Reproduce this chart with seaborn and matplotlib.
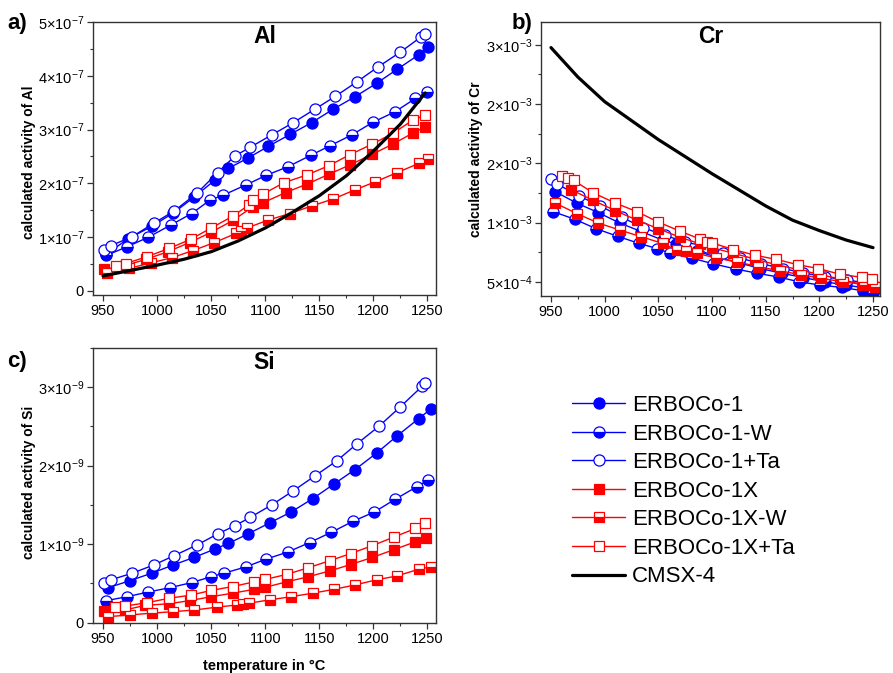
import numpy as np
import pandas as pd
import matplotlib
matplotlib.use("Agg")
import matplotlib.pyplot as plt
import seaborn as sns
from matplotlib.ticker import FixedLocator, MultipleLocator, FixedFormatter

# ---------------- data ----------------
series_names = ["ERBOCo-1", "ERBOCo-1-W", "ERBOCo-1+Ta",
                "ERBOCo-1X", "ERBOCo-1X-W", "ERBOCo-1X+Ta", "CMSX-4"]

# Al activity (x 1e-7)
al_T_e1 = [953, 973, 995, 1015, 1034, 1054, 1066, 1084, 1103, 1123, 1143, 1163, 1183, 1203, 1222, 1242, 1251]
al_v_e1 = [0.68, 0.97, 1.20, 1.45, 1.74, 2.07, 2.28, 2.47, 2.69, 2.91, 3.13, 3.38, 3.61, 3.86, 4.12, 4.39, 4.53]
al_T_e1w = [953, 972, 992, 1013, 1032, 1049, 1061, 1082, 1101, 1121, 1142, 1160, 1180, 1200, 1220, 1239, 1250]
al_v_e1w = [0.66, 0.82, 1.00, 1.23, 1.44, 1.69, 1.78, 1.97, 2.15, 2.31, 2.52, 2.70, 2.90, 3.14, 3.33, 3.58, 3.70]
al_T_e1ta = [951, 957, 977, 997, 1016, 1037, 1056, 1072, 1086, 1106, 1126, 1146, 1165, 1185, 1204, 1225, 1244, 1248]
al_v_e1ta = [0.76, 0.84, 1.01, 1.26, 1.49, 1.82, 2.20, 2.51, 2.67, 2.90, 3.13, 3.38, 3.62, 3.89, 4.16, 4.44, 4.72, 4.77]
al_T_x = [951, 970, 990, 1010, 1030, 1050, 1070, 1089, 1098, 1119, 1139, 1159, 1178, 1199, 1218, 1237, 1248]
al_v_x = [0.40, 0.47, 0.59, 0.73, 0.90, 1.09, 1.31, 1.57, 1.64, 1.83, 1.99, 2.17, 2.34, 2.54, 2.73, 2.94, 3.05]
al_T_xw = [954, 974, 994, 1014, 1033, 1053, 1073, 1078, 1083, 1103, 1123, 1143, 1163, 1183, 1202, 1222, 1242, 1251]
al_v_xw = [0.34, 0.42, 0.52, 0.62, 0.75, 0.90, 1.07, 1.12, 1.17, 1.32, 1.44, 1.58, 1.71, 1.88, 2.03, 2.20, 2.37, 2.45]
al_T_xta = [962, 971, 991, 1011, 1031, 1050, 1070, 1085, 1089, 1098, 1117, 1139, 1159, 1178, 1199, 1218, 1237, 1248]
al_v_xta = [0.47, 0.51, 0.64, 0.79, 0.96, 1.17, 1.39, 1.60, 1.69, 1.80, 2.01, 2.16, 2.33, 2.53, 2.73, 2.93, 3.18, 3.27]
al_T_cmsx = [950, 975, 1000, 1025, 1050, 1075, 1100, 1125, 1150, 1175, 1200, 1225, 1248]
al_v_cmsx = [0.28, 0.38, 0.48, 0.59, 0.73, 0.93, 1.17, 1.46, 1.77, 2.14, 2.60, 3.10, 3.68]

# Cr activity (x 1e-3)
cr_T_e1 = [954, 974, 994, 1014, 1034, 1054, 1066, 1086, 1105, 1125, 1145, 1165, 1185, 1205, 1225, 1245, 1252]
cr_v_e1 = [1.45, 1.33, 1.23, 1.12, 1.03, 0.94, 0.90, 0.82, 0.76, 0.70, 0.64, 0.59, 0.545, 0.50, 0.465, 0.43, 0.42]
cr_T_e1w = [952, 972, 992, 1012, 1032, 1049, 1061, 1081, 1101, 1122, 1142, 1162, 1181, 1201, 1221, 1241, 1250]
cr_v_e1w = [1.24, 1.16, 1.06, 0.98, 0.905, 0.85, 0.80, 0.75, 0.69, 0.635, 0.59, 0.55, 0.50, 0.465, 0.44, 0.405, 0.385]
cr_T_e1ta = [950, 956, 976, 996, 1016, 1036, 1056, 1075, 1095, 1110, 1126, 1146, 1166, 1185, 1205, 1226, 1246, 1250]
cr_v_e1ta = [1.58, 1.53, 1.405, 1.30, 1.18, 1.07, 0.99, 0.92, 0.87, 0.80, 0.75, 0.69, 0.64, 0.595, 0.55, 0.52, 0.48, 0.47]
cr_T_x = [969, 989, 1010, 1030, 1050, 1070, 1089, 1100, 1120, 1140, 1160, 1180, 1199, 1219, 1240, 1252]
cr_v_x = [1.47, 1.36, 1.25, 1.15, 1.06, 0.97, 0.90, 0.86, 0.80, 0.74, 0.68, 0.63, 0.58, 0.53, 0.47, 0.44]
cr_T_xw = [954, 974, 994, 1014, 1034, 1054, 1067, 1076, 1086, 1104, 1123, 1143, 1163, 1183, 1202, 1222, 1242, 1252]
cr_v_xw = [1.33, 1.22, 1.12, 1.046, 0.975, 0.905, 0.835, 0.82, 0.80, 0.75, 0.71, 0.66, 0.615, 0.575, 0.535, 0.50, 0.47, 0.45]
cr_T_xta = [960, 966, 971, 989, 1010, 1030, 1050, 1070, 1089, 1095, 1100, 1120, 1140, 1160, 1180, 1199, 1219, 1240, 1249]
cr_v_xta = [1.62, 1.59, 1.57, 1.44, 1.33, 1.24, 1.13, 1.035, 0.95, 0.92, 0.91, 0.84, 0.78, 0.736, 0.68, 0.64, 0.58, 0.546, 0.525]
cr_T_cmsx = [950, 975, 1000, 1025, 1050, 1075, 1100, 1125, 1150, 1175, 1200, 1225, 1250]
cr_v_cmsx = [2.97, 2.66, 2.40, 2.20, 2.00, 1.82, 1.64, 1.47, 1.30, 1.15, 1.04, 0.94, 0.86]

# Si activity (x 1e-9)
si_T_e1 = [955, 975, 995, 1015, 1034, 1054, 1066, 1084, 1104, 1124, 1144, 1164, 1183, 1203, 1222, 1242, 1253]
si_v_e1 = [0.446, 0.535, 0.63, 0.735, 0.83, 0.94, 1.01, 1.13, 1.27, 1.41, 1.58, 1.77, 1.95, 2.16, 2.38, 2.60, 2.72]
si_T_e1w = [953, 972, 992, 1012, 1032, 1050, 1062, 1082, 1101, 1121, 1141, 1161, 1181, 1201, 1220, 1240, 1251]
si_v_e1w = [0.28, 0.33, 0.39, 0.446, 0.51, 0.585, 0.63, 0.71, 0.81, 0.90, 1.02, 1.15, 1.29, 1.41, 1.57, 1.73, 1.82]
si_T_e1ta = [951, 957, 977, 997, 1016, 1037, 1056, 1072, 1086, 1106, 1126, 1146, 1166, 1185, 1205, 1225, 1245, 1248]
si_v_e1ta = [0.51, 0.544, 0.63, 0.735, 0.855, 0.99, 1.13, 1.235, 1.34, 1.50, 1.68, 1.87, 2.06, 2.28, 2.50, 2.75, 3.01, 3.06]
si_T_x = [951, 970, 989, 1011, 1030, 1050, 1070, 1090, 1100, 1120, 1140, 1160, 1179, 1199, 1219, 1239, 1249]
si_v_x = [0.15, 0.16, 0.22, 0.24, 0.28, 0.33, 0.375, 0.425, 0.45, 0.52, 0.585, 0.66, 0.74, 0.83, 0.93, 1.03, 1.075]
si_T_xw = [955, 975, 995, 1015, 1034, 1055, 1074, 1079, 1085, 1104, 1124, 1144, 1164, 1183, 1203, 1222, 1242, 1253]
si_v_xw = [0.076, 0.098, 0.12, 0.14, 0.16, 0.196, 0.225, 0.24, 0.247, 0.29, 0.33, 0.375, 0.425, 0.48, 0.545, 0.595, 0.68, 0.71]
si_T_xta = [961, 970, 991, 1011, 1031, 1050, 1070, 1090, 1100, 1120, 1140, 1160, 1179, 1199, 1219, 1239, 1248]
si_v_xta = [0.20, 0.21, 0.255, 0.31, 0.35, 0.41, 0.46, 0.52, 0.55, 0.615, 0.70, 0.79, 0.88, 0.98, 1.09, 1.20, 1.27]

# tick labels
x_ticks = [950, 1000, 1050, 1100, 1150, 1200, 1250]
al_yticks = [0, 1e-7, 2e-7, 3e-7, 4e-7, 5e-7]
al_ylabels = ["0", "1×10$^{-7}$", "2×10$^{-7}$", "3×10$^{-7}$", "4×10$^{-7}$", "5×10$^{-7}$"]
cr_yticks = [0.5e-3, 1.125e-3, 1.75e-3, 2.375e-3, 3.0e-3]
cr_ylabels = ["5×10$^{-4}$", "1×10$^{-3}$", "2×10$^{-3}$", "2×10$^{-3}$", "3×10$^{-3}$"]
si_yticks = [0, 1e-9, 2e-9, 3e-9]
si_ylabels = ["0", "1×10$^{-9}$", "2×10$^{-9}$", "3×10$^{-9}$"]

# ---------------- style ----------------
sns.set_theme(style="ticks")
plt.rcParams["font.family"] = ["Liberation Sans", "DejaVu Sans"]
plt.rcParams["mathtext.fontset"] = "custom"
plt.rcParams["mathtext.rm"] = "Liberation Sans"
plt.rcParams["mathtext.it"] = "Liberation Sans:italic"
plt.rcParams["mathtext.bf"] = "Liberation Sans:bold"
for k in ("text.color", "axes.labelcolor", "xtick.color", "ytick.color", "xtick.labelcolor", "ytick.labelcolor"):
    plt.rcParams[k] = "black"

BLUE = "#0000FF"
RED = "#FF0000"
styles = {
    "ERBOCo-1":     dict(color=BLUE, marker="o", markersize=8, fillstyle="full", markerfacecolor=BLUE, markerfacecoloralt=BLUE),
    "ERBOCo-1-W":   dict(color=BLUE, marker="o", markersize=8, fillstyle="bottom", markerfacecolor=BLUE, markerfacecoloralt="white"),
    "ERBOCo-1+Ta":  dict(color=BLUE, marker="o", markersize=8, fillstyle="full", markerfacecolor="white", markerfacecoloralt="white"),
    "ERBOCo-1X":    dict(color=RED, marker="s", markersize=7, fillstyle="full", markerfacecolor=RED, markerfacecoloralt=RED),
    "ERBOCo-1X-W":  dict(color=RED, marker="s", markersize=7, fillstyle="bottom", markerfacecolor=RED, markerfacecoloralt="white"),
    "ERBOCo-1X+Ta": dict(color=RED, marker="s", markersize=7, fillstyle="full", markerfacecolor="white", markerfacecoloralt="white"),
}

fig = plt.figure(figsize=(8.93, 6.73), dpi=100)
ax_a = fig.add_axes([93/893, 1-295/673, 343/893, 273/673])
ax_b = fig.add_axes([541/893, 1-296/673, 339/893, 274/673])
ax_c = fig.add_axes([93/893, 1-623/673, 343/893, 275/673])


def draw(ax, T, v, scale, name):
    df = pd.DataFrame({"T": T, "v": np.asarray(v) * scale})
    if name == "CMSX-4":
        sns.lineplot(data=df, x="T", y="v", ax=ax, color="black", linewidth=2.3,
                     label=name, legend=False, errorbar=None)
    else:
        st = styles[name]
        sns.lineplot(data=df, x="T", y="v", ax=ax, color=st["color"], linewidth=1.0,
                     marker=st["marker"], markersize=st["markersize"],
                     fillstyle=st["fillstyle"], markerfacecolor=st["markerfacecolor"],
                     markerfacecoloralt=st["markerfacecoloralt"],
                     markeredgecolor=st["color"], markeredgewidth=0.9,
                     label=name, legend=False, errorbar=None)


al = [(al_T_e1, al_v_e1), (al_T_e1w, al_v_e1w), (al_T_e1ta, al_v_e1ta),
      (al_T_x, al_v_x), (al_T_xw, al_v_xw), (al_T_xta, al_v_xta), (al_T_cmsx, al_v_cmsx)]
cr = [(cr_T_e1, cr_v_e1), (cr_T_e1w, cr_v_e1w), (cr_T_e1ta, cr_v_e1ta),
      (cr_T_x, cr_v_x), (cr_T_xw, cr_v_xw), (cr_T_xta, cr_v_xta), (cr_T_cmsx, cr_v_cmsx)]
si = [(si_T_e1, si_v_e1), (si_T_e1w, si_v_e1w), (si_T_e1ta, si_v_e1ta),
      (si_T_x, si_v_x), (si_T_xw, si_v_xw), (si_T_xta, si_v_xta)]

for (T, v), name in zip(al, series_names):
    draw(ax_a, T, v, 1e-7, name)
for (T, v), name in zip(cr, series_names):
    draw(ax_b, T, v, 1e-3, name)
for (T, v), name in zip(si, series_names):
    draw(ax_c, T, v, 1e-9, name)

tick_fs = 10.5
for ax in (ax_a, ax_b, ax_c):
    for sp in ax.spines.values():
        sp.set_visible(True)
        sp.set_linewidth(1.0)
        sp.set_color("#333333")
    ax.xaxis.set_major_locator(FixedLocator(x_ticks))
    ax.xaxis.set_minor_locator(MultipleLocator(25))
    ax.tick_params(axis="both", which="major", direction="out", length=4, width=0.9,
                   labelsize=tick_fs, color="#333333", labelcolor="black", pad=2.5,
                   top=False, right=False)
    ax.tick_params(axis="both", which="minor", direction="out", length=2.5, width=0.8,
                   color="#333333", top=False, right=False)
    ax.set_xlabel("")
    ax.set_ylabel("")

ax_a.set_xlim(940.7, 1258)
ax_b.set_xlim(940.7, 1256.5)
ax_c.set_xlim(940.7, 1258)

ax_a.set_ylim(-0.075e-7, 5.0e-7)
ax_a.yaxis.set_major_locator(FixedLocator(al_yticks))
ax_a.yaxis.set_major_formatter(FixedFormatter(al_ylabels))
ax_a.yaxis.set_minor_locator(MultipleLocator(0.5e-7))

ax_b.set_ylim(0.35e-3, 3.24e-3)
ax_b.yaxis.set_major_locator(FixedLocator(cr_yticks))
ax_b.yaxis.set_major_formatter(FixedFormatter(cr_ylabels))
ax_b.yaxis.set_minor_locator(FixedLocator([0.8125e-3, 1.4375e-3, 2.0625e-3, 2.6875e-3]))

ax_c.set_ylim(-0.005e-9, 3.5e-9)
ax_c.yaxis.set_major_locator(FixedLocator(si_yticks))
ax_c.yaxis.set_major_formatter(FixedFormatter(si_ylabels))
ax_c.yaxis.set_minor_locator(MultipleLocator(0.5e-9))

lab_fs = 10
ax_a.set_ylabel("calculated activity of Al", fontsize=lab_fs, fontweight="bold")
ax_a.yaxis.set_label_coords(-0.165, 0.487)
ax_b.set_ylabel("calculated activity of Cr", fontsize=lab_fs, fontweight="bold")
ax_b.yaxis.set_label_coords(-0.17, 0.50)
ax_c.set_ylabel("calculated activity of Si", fontsize=lab_fs, fontweight="bold")
ax_c.yaxis.set_label_coords(-0.165, 0.51)
ax_c.set_xlabel("temperature in °C", fontsize=10.5, fontweight="bold")
ax_c.xaxis.set_label_coords(0.5, -0.13)

for ax, t in ((ax_a, "Al"), (ax_b, "Cr"), (ax_c, "Si")):
    ax.text(0.5, 0.947, t, transform=ax.transAxes, ha="center", va="center",
            fontsize=16.5, fontweight="bold")

fig.text(7/893, 1-23/673, "a)", fontsize=16, fontweight="bold", va="center", ha="left")
fig.text(512/893, 1-23/673, "b)", fontsize=16, fontweight="bold", va="center", ha="left")
fig.text(7/893, 1-362/673, "c)", fontsize=16, fontweight="bold", va="center", ha="left")

handles = ax_a.get_lines()[:7]
labels = [h.get_label() for h in handles]
fig.legend(handles, labels, loc="upper left", bbox_to_anchor=(572/893, 1-395/673),
           frameon=False, fontsize=16, handlelength=2.4, handletextpad=0.3,
           labelspacing=0.34, borderpad=0, borderaxespad=0)

fig.savefig("out.png", dpi=100)
